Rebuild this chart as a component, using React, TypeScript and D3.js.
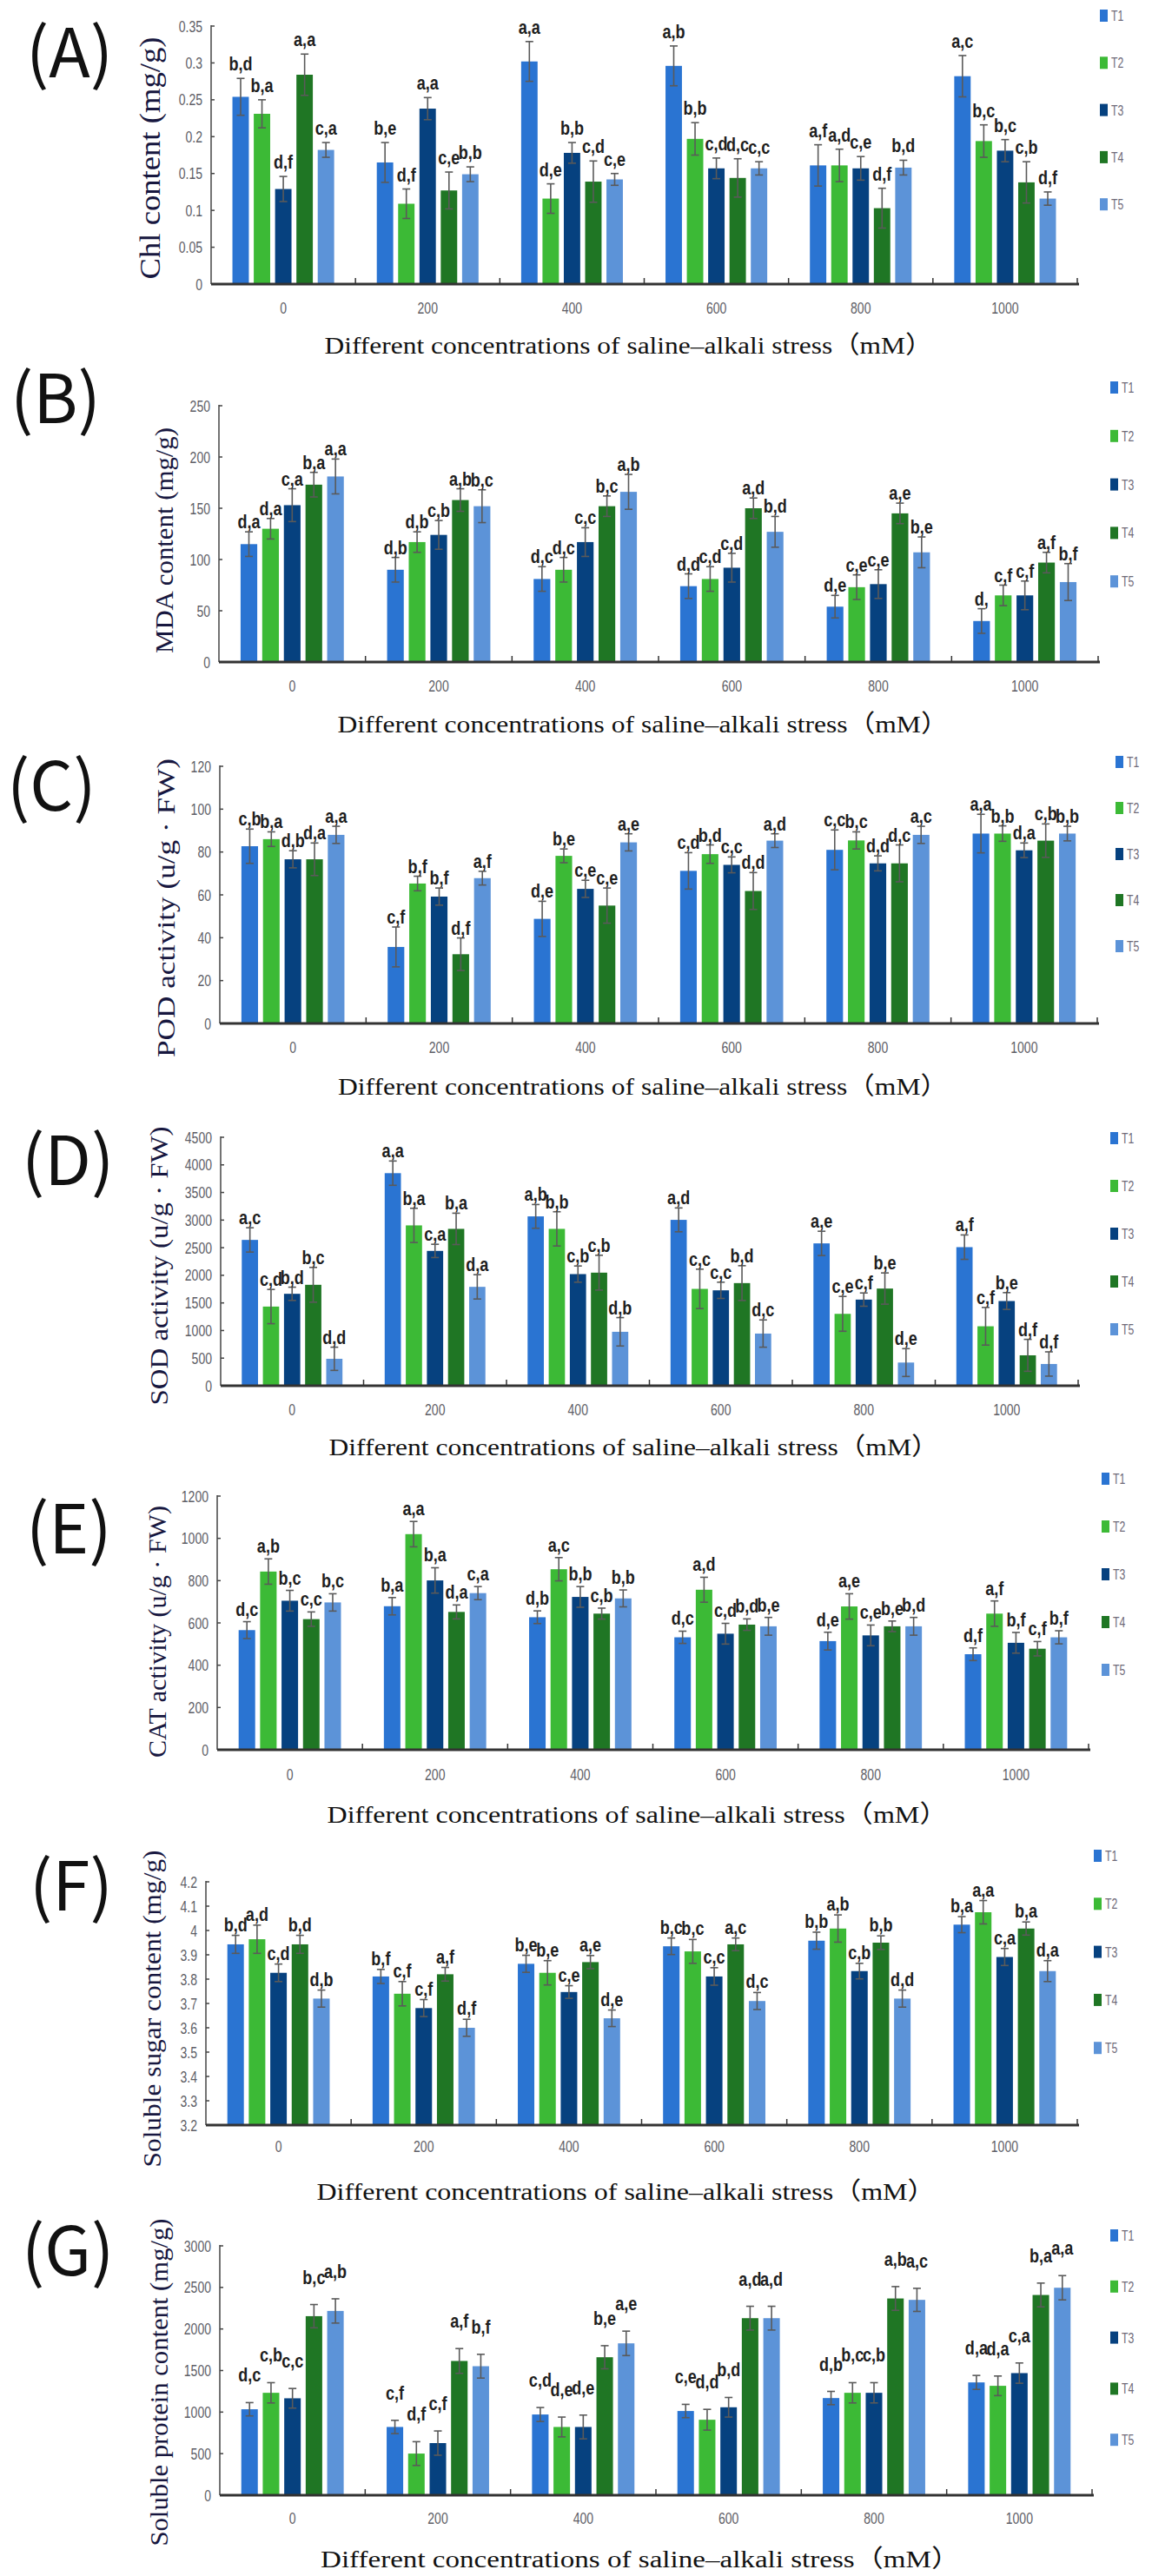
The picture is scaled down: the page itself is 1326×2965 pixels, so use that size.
import React, { useRef, useEffect } from 'react';
import * as d3 from 'd3';

// 横轴分组 / 处理
const groups = ['0', '200', '400', '600', '800', '1000'];
const series = ['T1', 'T2', 'T3', 'T4', 'T5'];
const colors = ['#2a74d2', '#3cba36', '#06417f', '#1f7624', '#5c93d8'];

// (A) Chl content
const chlMean = [
  [0.254, 0.231, 0.129, 0.284, 0.182],
  [0.165, 0.109, 0.238, 0.127, 0.149],
  [0.302, 0.116, 0.178, 0.139, 0.142],
  [0.296, 0.197, 0.157, 0.144, 0.157],
  [0.161, 0.161, 0.157, 0.103, 0.158],
  [0.282, 0.194, 0.181, 0.138, 0.116],
];
const chlErr = [
  [0.025, 0.019, 0.017, 0.028, 0.01],
  [0.027, 0.02, 0.015, 0.025, 0.01],
  [0.027, 0.02, 0.014, 0.028, 0.008],
  [0.027, 0.022, 0.014, 0.026, 0.009],
  [0.028, 0.022, 0.016, 0.027, 0.01],
  [0.028, 0.022, 0.015, 0.028, 0.009],
];
const chlLetters = [
  ['b,d', 'b,a', 'd,f', 'a,a', 'c,a'],
  ['b,e', 'd,f', 'a,a', 'c,e', 'b,b'],
  ['a,a', 'd,e', 'b,b', 'c,d', 'c,e'],
  ['a,b', 'b,b', 'c,d', 'd,c', 'c,c'],
  ['a,f', 'a,d', 'c,e', 'd,f', 'b,d'],
  ['a,c', 'b,c', 'b,c', 'c,b', 'd,f'],
];

// (B) MDA content
const mdaMean = [
  [115, 130, 153, 173, 181],
  [90, 117, 124, 158, 152],
  [81, 90, 117, 152, 166],
  [74, 81, 92, 150, 127],
  [54, 73, 76, 145, 107],
  [40, 65, 65, 97, 78],
];
const mdaErr = [
  [12, 10, 16, 12, 17],
  [12, 10, 14, 11, 16],
  [12, 12, 14, 10, 17],
  [12, 12, 14, 10, 15],
  [11, 12, 14, 10, 15],
  [12, 10, 14, 10, 18],
];
const mdaLetters = [
  ['d,a', 'd,a', 'c,a', 'b,a', 'a,a'],
  ['d,b', 'd,b', 'c,b', 'a,b', 'b,c'],
  ['d,c', 'd,c', 'c,c', 'b,c', 'a,b'],
  ['d,d', 'c,d', 'c,d', 'a,d', 'b,d'],
  ['d,e', 'c,e', 'c,e', 'a,e', 'b,e'],
  ['d,', 'c,f', 'c,f', 'a,f', 'b,f'],
];

// (C) POD activity
const podMean = [
  [82.7, 86, 76.6, 76.6, 88],
  [35.7, 65.3, 59.2, 32.3, 67.8],
  [48.8, 78.2, 62.8, 55, 84.5],
  [71.2, 79, 74, 61.8, 85.3],
  [81, 85.4, 74.7, 74.7, 88],
  [88.6, 88.6, 80.8, 85.3, 88.6],
];
const podErr = [
  [8, 3.4, 4, 7.6, 4],
  [9.3, 3.4, 4, 7.6, 3.2],
  [8.2, 3.2, 4, 8.2, 4],
  [8.5, 4.3, 3.7, 8.6, 3.2],
  [9.3, 4, 3.5, 8.6, 4],
  [9, 3.6, 3.4, 7.8, 3.4],
];
const podLetters = [
  ['c,b', 'b,a', 'd,b', 'd,a', 'a,a'],
  ['c,f', 'b,f', 'b,f', 'd,f', 'a,f'],
  ['d,e', 'b,e', 'c,e', 'c,e', 'a,e'],
  ['c,d', 'b,d', 'c,c', 'd,d', 'a,d'],
  ['c,c', 'b,c', 'd,d', 'd,c', 'a,c'],
  ['a,a', 'b,b', 'd,a', 'c,b', 'b,b'],
];

// (D) SOD activity
const sodMean = [
  [2641, 1434, 1665, 1828, 488],
  [3850, 2904, 2442, 2841, 1791],
  [3067, 2841, 2022, 2048, 977],
  [3004, 1754, 1728, 1859, 945],
  [2578, 1302, 1560, 1760, 420],
  [2510, 1077, 1534, 551, 394],
];
const sodErr = [
  [220, 310, 120, 315, 210],
  [220, 310, 120, 284, 220],
  [215, 310, 147, 315, 257],
  [216, 357, 147, 315, 247],
  [220, 315, 120, 283, 252],
  [221, 341, 152, 289, 220],
];
const sodLetters = [
  ['a,c', 'c,d', 'b,d', 'b,c', 'd,d'],
  ['a,a', 'b,a', 'c,a', 'b,a', 'd,a'],
  ['a,b', 'b,b', 'c,b', 'c,b', 'd,b'],
  ['a,d', 'c,c', 'c,c', 'b,d', 'd,c'],
  ['a,e', 'c,e', 'c,f', 'b,e', 'd,e'],
  ['a,f', 'c,f', 'b,e', 'd,f', 'd,f'],
];

// (E) CAT activity
const catMean = [
  [566, 843, 705, 618, 697],
  [679, 1020, 801, 652, 741],
  [627, 854, 723, 644, 716],
  [532, 757, 549, 592, 584],
  [514, 678, 541, 584, 584],
  [452, 644, 506, 478, 532],
];
const catErr = [
  [40, 60, 49, 34, 41],
  [41, 60, 60, 33, 31],
  [30, 55, 49, 26, 40],
  [29, 59, 49, 27, 42],
  [42, 60, 49, 25, 42],
  [30, 60, 49, 34, 31],
];
const catLetters = [
  ['d,c', 'a,b', 'b,c', 'c,c', 'b,c'],
  ['b,a', 'a,a', 'b,a', 'd,a', 'c,a'],
  ['d,b', 'a,c', 'b,b', 'c,b', 'b,b'],
  ['d,c', 'a,d', 'c,d', 'b,d', 'b,e'],
  ['d,e', 'a,e', 'c,e', 'b,e', 'b,d'],
  ['d,f', 'a,f', 'b,f', 'c,f', 'b,f'],
];

// (F) Soluble sugar
const sugarMean = [
  [3.943, 3.964, 3.826, 3.943, 3.72],
  [3.811, 3.74, 3.681, 3.82, 3.6],
  [3.863, 3.826, 3.747, 3.87, 3.639],
  [3.935, 3.914, 3.811, 3.943, 3.71],
  [3.958, 4.008, 3.833, 3.95, 3.72],
  [4.024, 4.075, 3.891, 4.008, 3.833],
];
const sugarErr = [
  [0.037, 0.058, 0.036, 0.037, 0.035],
  [0.029, 0.05, 0.035, 0.028, 0.035],
  [0.035, 0.05, 0.026, 0.027, 0.034],
  [0.034, 0.049, 0.036, 0.026, 0.035],
  [0.035, 0.056, 0.032, 0.028, 0.035],
  [0.033, 0.048, 0.035, 0.027, 0.043],
];
const sugarLetters = [
  ['b,d', 'a,d', 'c,d', 'b,d', 'd,b'],
  ['b,f', 'c,f', 'c,f', 'a,f', 'd,f'],
  ['b,e', 'b,e', 'c,e', 'a,e', 'd,e'],
  ['b,c', 'b,c', 'c,c', 'a,c', 'd,c'],
  ['b,b', 'a,b', 'c,b', 'b,b', 'd,d'],
  ['b,a', 'a,a', 'c,a', 'b,a', 'd,a'],
];

// (G) Soluble protein
const proteinMean = [
  [1034, 1232, 1166, 2154, 2217],
  [821, 501, 627, 1615, 1552],
  [971, 821, 821, 1660, 1827],
  [1013, 908, 1058, 2130, 2130],
  [1169, 1232, 1232, 2367, 2350],
  [1357, 1316, 1469, 2409, 2496],
];
const proteinErr = [
  [80, 122, 118, 140, 146],
  [80, 143, 146, 149, 143],
  [84, 119, 143, 139, 147],
  [80, 125, 118, 143, 143],
  [80, 122, 122, 143, 139],
  [84, 118, 122, 143, 146],
];
const proteinLetters = [
  ['d,c', 'c,b', 'c,c', 'b,c', 'a,b'],
  ['c,f', 'd,f', 'c,f', 'a,f', 'b,f'],
  ['c,d', 'd,e', 'd,e', 'b,e', 'a,e'],
  ['c,e', 'd,d', 'b,d', 'a,d', 'a,d'],
  ['d,b', 'b,c', 'c,b', 'a,b', 'a,c'],
  ['d,a', 'd,a', 'c,a', 'b,a', 'a,a'],
];

const xTitle = 'Different concentrations of saline–alkali stress（mM）';

interface Panel {
  tag: string;
  yLabel: string;
  mean: number[][];
  err: number[][];
  letters: string[][];
  domain: [number, number];
  tickCount: number;
  // 版面
  x0: number; x1: number; yTop: number; yBot: number;
  tickY: number; titleY: number; titleLen: number;
  yTitleX: number; yTitleC: number; yTitleLen: number; yTitleSize: number;
  tagX: number; tagY: number;
  legX: number; legY: number; legStep: number;
  gap: number;
}

const panels: Panel[] = [
  { tag: '(A)', yLabel: 'Chl content (mg/g)', mean: chlMean, err: chlErr, letters: chlLetters,
    domain: [0, 0.35], tickCount: 7,
    x0: 243, x1: 1240, yTop: 30, yBot: 327, tickY: 354, titleY: 397, titleLen: 700,
    yTitleX: 172, yTitleC: 182, yTitleLen: 279, yTitleSize: 34,
    tagX: 30, tagY: 62, legX: 1266, legY: 18, legStep: 54.3, gap: 9 },
  { tag: '(B)', yLabel: 'MDA content (mg/g)', mean: mdaMean, err: mdaErr, letters: mdaLetters,
    domain: [0, 250], tickCount: 5,
    x0: 252, x1: 1264, yTop: 467, yBot: 762, tickY: 789, titleY: 833, titleLen: 703,
    yTitleX: 188, yTitleC: 622, yTitleLen: 260, yTitleSize: 30,
    tagX: 12, tagY: 460, legX: 1278, legY: 446, legStep: 55.8, gap: 4 },
  { tag: '(C)', yLabel: 'POD activity (u/g · FW)', mean: podMean, err: podErr, letters: podLetters,
    domain: [0, 120], tickCount: 6,
    x0: 253, x1: 1263, yTop: 882, yBot: 1178, tickY: 1205, titleY: 1250, titleLen: 702,
    yTitleX: 190, yTitleC: 1045, yTitleLen: 344, yTitleSize: 30,
    tagX: 8, tagY: 906, legX: 1284, legY: 877, legStep: 53, gap: 4 },
  { tag: '(D)', yLabel: 'SOD activity (u/g · FW)', mean: sodMean, err: sodErr, letters: sodLetters,
    domain: [0, 4500], tickCount: 9,
    x0: 254, x1: 1241, yTop: 1309, yBot: 1595, tickY: 1622, titleY: 1665, titleLen: 702,
    yTitleX: 182, yTitleC: 1457, yTitleLen: 321, yTitleSize: 30,
    tagX: 25, tagY: 1337, legX: 1278, legY: 1310, legStep: 55, gap: 4 },
  { tag: '(E)', yLabel: 'CAT activity (u/g · FW)', mean: catMean, err: catErr, letters: catLetters,
    domain: [0, 1200], tickCount: 6,
    x0: 250, x1: 1253, yTop: 1722, yBot: 2014, tickY: 2042, titleY: 2088, titleLen: 714,
    yTitleX: 180, yTitleC: 1878, yTitleLen: 290, yTitleSize: 30,
    tagX: 30, tagY: 1761, legX: 1268, legY: 1702, legStep: 55, gap: 7 },
  { tag: '(F)', yLabel: 'Soluble sugar content (mg/g)', mean: sugarMean, err: sugarErr, letters: sugarLetters,
    domain: [3.2, 4.2], tickCount: 10,
    x0: 237, x1: 1240, yTop: 2166, yBot: 2446, tickY: 2470, titleY: 2522, titleLen: 712,
    yTitleX: 174, yTitleC: 2312, yTitleLen: 365, yTitleSize: 30,
    tagX: 34, tagY: 2172, legX: 1259, legY: 2136, legStep: 55.3, gap: 5 },
  { tag: '(G)', yLabel: 'Soluble protein content (mg/g)', mean: proteinMean, err: proteinErr, letters: proteinLetters,
    domain: [0, 3000], tickCount: 6,
    x0: 253, x1: 1257, yTop: 2585, yBot: 2872, tickY: 2898, titleY: 2945, titleLen: 736,
    yTitleX: 182, yTitleC: 2742, yTitleLen: 377, yTitleSize: 30,
    tagX: 25, tagY: 2592, legX: 1278, legY: 2573, legStep: 58.8, gap: 24 },
];

const W = 1326;
const H = 2965;
const sans = '"Liberation Sans", Arial, sans-serif';
const serif = '"Liberation Serif", "Times New Roman", "Noto Sans CJK SC", serif';

// 窄体文字：横向压缩
function narrowText(
  sel: d3.Selection<SVGGElement, unknown, null, undefined>,
  x: number, y: number, txt: string,
  size: number, sx: number, anchor: string, fill: string, bold = false,
) {
  sel.append('text')
    .attr('transform', `translate(${x},${y}) scale(${sx},1)`)
    .attr('text-anchor', anchor)
    .attr('font-family', sans)
    .attr('font-weight', bold ? 'bold' : 'normal')
    .attr('font-size', size)
    .attr('fill', fill)
    .text(txt);
}

const App: React.FC = () => {
  const svgRef = useRef<SVGSVGElement>(null);

  useEffect(() => {
    if (!svgRef.current) return;
    const svg = d3.select(svgRef.current);
    svg.selectAll('*').remove();

    panels.forEach((p) => {
      const g = svg.append('g') as unknown as d3.Selection<SVGGElement, unknown, null, undefined>;
      const xg = d3.scaleBand<string>().domain(groups).range([p.x0, p.x1]);
      const xs = d3.scaleBand<string>().domain(series).range([0, xg.bandwidth()])
        .paddingInner(0.23).paddingOuter(1);
      const y = d3.scaleLinear().domain(p.domain).range([p.yBot, p.yTop]);

      // 柱子
      groups.forEach((gr, gi) => {
        series.forEach((s, si) => {
          const v = p.mean[gi][si];
          const e = p.err[gi][si];
          const bx = xg(gr)! + xs(s)!;
          const bw = xs.bandwidth();
          const cx = bx + bw / 2;
          g.append('rect')
            .attr('x', bx).attr('y', y(v))
            .attr('width', bw).attr('height', p.yBot - y(v))
            .attr('fill', colors[si]);
          // 误差线
          const eg = g.append('g').attr('stroke', '#5a5a5a').attr('stroke-width', 1.6);
          eg.append('line').attr('x1', cx).attr('x2', cx).attr('y1', y(v - e)).attr('y2', y(v + e));
          eg.append('line').attr('x1', cx - 4.5).attr('x2', cx + 4.5).attr('y1', y(v + e)).attr('y2', y(v + e));
          eg.append('line').attr('x1', cx - 4.5).attr('x2', cx + 4.5).attr('y1', y(v - e)).attr('y2', y(v - e));
          // 显著性字母
          narrowText(g, cx, y(v + e) - p.gap, p.letters[gi][si], 22, 0.82, 'middle', '#1e1e1e', true);
        });
      });

      // y 轴
      g.append('line').attr('x1', p.x0).attr('x2', p.x0).attr('y1', p.yTop - 1).attr('y2', p.yBot)
        .attr('stroke', '#444').attr('stroke-width', 1.5);
      y.ticks(p.tickCount).forEach((t) => {
        g.append('line').attr('x1', p.x0).attr('x2', p.x0 + 4).attr('y1', y(t)).attr('y2', y(t))
          .attr('stroke', '#444').attr('stroke-width', 1.5);
        narrowText(g, p.x0 - 10, y(t) + 6.5, String(+t.toFixed(2)), 18, 0.78, 'end', '#5e5e66');
      });

      // x 轴
      g.append('line').attr('x1', p.x0).attr('x2', p.x1 + 2).attr('y1', p.yBot).attr('y2', p.yBot)
        .attr('stroke', '#333').attr('stroke-width', 3);
      groups.forEach((gr, gi) => {
        if (gi > 0) {
          const tx = xg(gr)!;
          g.append('line').attr('x1', tx).attr('x2', tx).attr('y1', p.yBot).attr('y2', p.yBot - 7)
            .attr('stroke', '#333').attr('stroke-width', 1.5);
        }
        narrowText(g, xg(gr)! + xg.bandwidth() / 2, p.tickY + 6.5, gr, 18, 0.78, 'middle', '#5e5e66');
      });
      g.append('line').attr('x1', p.x1).attr('x2', p.x1).attr('y1', p.yBot).attr('y2', p.yBot - 7)
        .attr('stroke', '#333').attr('stroke-width', 1.5);

      // 横轴标题
      g.append('text')
        .attr('x', (p.x0 + p.x1) / 2 - 18).attr('y', p.titleY).attr('dy', '0.35em')
        .attr('text-anchor', 'middle')
        .attr('font-family', serif).attr('font-size', 28).attr('fill', '#111')
        .attr('textLength', p.titleLen).attr('lengthAdjust', 'spacingAndGlyphs')
        .text(xTitle);

      // 纵轴标题
      g.append('text')
        .attr('transform', `translate(${p.yTitleX},${p.yTitleC}) rotate(-90)`)
        .attr('dy', '0.35em')
        .attr('text-anchor', 'middle')
        .attr('font-family', serif).attr('font-size', p.yTitleSize).attr('fill', '#17173f')
        .attr('textLength', p.yTitleLen).attr('lengthAdjust', 'spacingAndGlyphs')
        .text(p.yLabel);

      // 面板编号
      g.append('text')
        .attr('x', p.tagX).attr('y', p.tagY).attr('dy', '0.35em')
        .attr('font-family', '"Noto Sans CJK JP", "Noto Sans", sans-serif')
        .attr('font-size', 78).attr('fill', '#111')
        .text(p.tag);

      // 图例
      series.forEach((s, si) => {
        const ly = p.legY + si * p.legStep;
        g.append('rect').attr('x', p.legX).attr('y', ly - 7).attr('width', 9).attr('height', 14)
          .attr('fill', colors[si]);
        narrowText(g, p.legX + 13, ly + 6, s, 17, 0.72, 'start', '#6e6a78');
      });
    });
  }, []);

  return (
    <svg
      ref={svgRef}
      width={W}
      height={H}
      style={{ position: 'absolute', left: 0, top: 0, background: '#fff' }}
    />
  );
};

export default App;
